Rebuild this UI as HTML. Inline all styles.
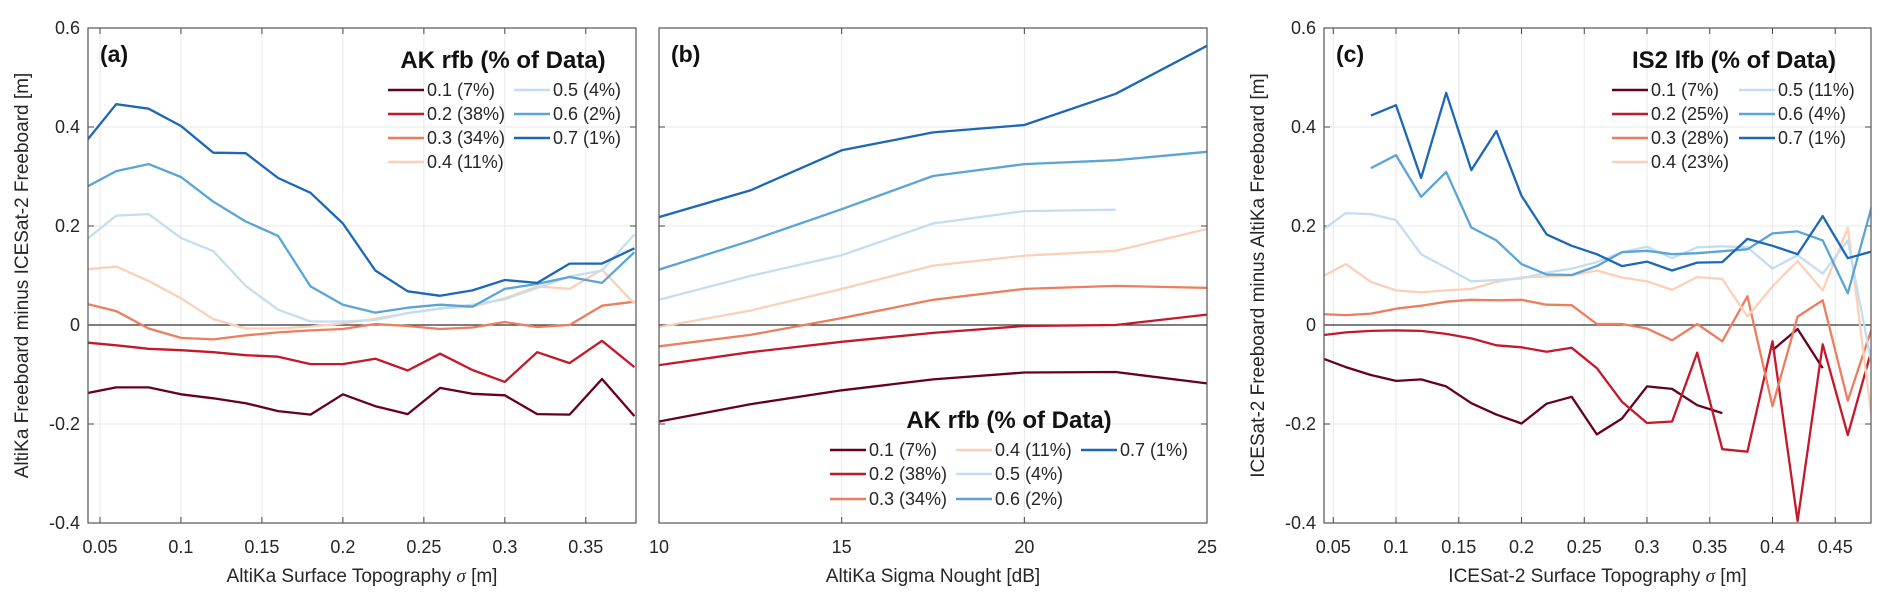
<!DOCTYPE html>
<html><head><meta charset="utf-8">
<style>
html,body{margin:0;padding:0;background:#fff;}
svg{display:block;font-family:"Liberation Sans",Arial,sans-serif;}
</style></head>
<body>
<svg id="chart" width="1892" height="604" viewBox="0 0 1892 604" xmlns="http://www.w3.org/2000/svg"></svg>
<script>
// ---------- data ----------
const seriesLabels = ['0.1','0.2','0.3','0.4','0.5','0.6','0.7'];
const seriesColors = ['#67001f','#c4182b','#ec7d5e','#fcd0b6','#c3def1','#5aa5d6','#1d67b8'];

const xA = [0.04,0.06,0.08,0.10,0.12,0.14,0.16,0.18,0.20,0.22,0.24,0.26,0.28,0.30,0.32,0.34,0.36,0.38];
const a01 = [-0.139,-0.126,-0.126,-0.140,-0.148,-0.158,-0.174,-0.181,-0.140,-0.164,-0.180,-0.127,-0.139,-0.142,-0.180,-0.181,-0.109,-0.184];
const a02 = [-0.035,-0.041,-0.048,-0.051,-0.055,-0.061,-0.064,-0.079,-0.079,-0.068,-0.092,-0.058,-0.091,-0.115,-0.055,-0.077,-0.032,-0.085];
const a03 = [0.044,0.028,-0.007,-0.026,-0.029,-0.021,-0.015,-0.011,-0.008,0.002,-0.002,-0.008,-0.005,0.006,-0.004,0.000,0.039,0.047];
const a04 = [0.112,0.118,0.089,0.054,0.012,-0.007,-0.007,-0.003,0.003,0.013,0.024,0.034,0.037,0.054,0.078,0.073,0.112,0.043];
const a05 = [0.168,0.221,0.224,0.176,0.149,0.079,0.031,0.007,0.007,0.010,0.024,0.033,0.041,0.052,0.075,0.098,0.110,0.183];
const a06 = [0.276,0.311,0.325,0.299,0.249,0.209,0.180,0.078,0.041,0.025,0.035,0.041,0.037,0.073,0.083,0.097,0.085,0.147];
const a07 = [0.365,0.446,0.437,0.402,0.348,0.347,0.297,0.267,0.205,0.110,0.068,0.059,0.070,0.091,0.085,0.124,0.124,0.155];

const xB = [10,12.5,15,17.5,20,22.5,25];
const b01 = [-0.195,-0.160,-0.132,-0.110,-0.096,-0.095,-0.118];
const b02 = [-0.081,-0.055,-0.034,-0.016,-0.002,0.000,0.021];
const b03 = [-0.043,-0.020,0.014,0.051,0.073,0.079,0.075];
const b04 = [-0.004,0.029,0.073,0.120,0.140,0.150,0.194];
const b05 = [0.051,0.099,0.141,0.205,0.230,0.233,null];
const b06 = [0.112,0.170,0.234,0.301,0.325,0.333,0.350];
const b07 = [0.218,0.272,0.353,0.389,0.404,0.467,0.564];

const xC = [0.04,0.06,0.08,0.10,0.12,0.14,0.16,0.18,0.20,0.22,0.24,0.26,0.28,0.30,0.32,0.34,0.36,0.38,0.40,0.42,0.44,0.46,0.48];
const c01 = [-0.066,-0.085,-0.101,-0.113,-0.110,-0.124,-0.158,-0.181,-0.199,-0.159,-0.145,-0.221,-0.189,-0.124,-0.129,-0.162,-0.178,null,-0.051,-0.008,-0.087,null,null];
const c02 = [-0.021,-0.015,-0.012,-0.011,-0.012,-0.018,-0.027,-0.041,-0.045,-0.054,-0.046,-0.087,-0.155,-0.198,-0.195,-0.056,-0.251,-0.256,-0.033,-0.396,-0.039,-0.222,-0.041];
const c03 = [0.022,0.020,0.023,0.033,0.039,0.047,0.051,0.050,0.051,0.041,0.040,0.002,0.002,-0.007,-0.031,0.002,-0.033,0.058,-0.164,0.017,0.050,-0.153,0.000];
const c04 = [0.096,0.123,0.087,0.070,0.066,0.070,0.073,0.087,0.096,0.098,0.100,0.110,0.096,0.088,0.071,0.097,0.093,0.017,0.078,0.129,0.070,0.196,-0.207];
const c05 = [0.189,0.226,0.224,0.212,0.143,0.116,0.088,0.091,0.094,0.106,0.114,0.127,0.147,0.158,0.135,0.157,0.159,0.157,0.114,0.141,0.104,0.171,-0.092];
const c06 = [null,null,0.317,0.343,0.259,0.309,0.197,0.171,0.123,0.102,0.101,0.119,0.147,0.150,0.143,0.145,0.149,0.153,0.185,0.189,0.171,0.064,0.248];
const c07 = [null,null,0.423,0.444,0.297,0.469,0.313,0.392,0.261,0.183,0.160,0.143,0.119,0.128,0.110,0.126,0.127,0.174,0.160,0.143,0.220,0.135,0.149];

const yTicks = [-0.4,-0.2,0,0.2,0.4,0.6];
const yTickLabels = ['-0.4','-0.2','0','0.2','0.4','0.6'];
const xTicksA = [0.05,0.1,0.15,0.2,0.25,0.3,0.35];
const xTickLabelsA = ['0.05','0.1','0.15','0.2','0.25','0.3','0.35'];
const xTicksB = [10,15,20,25];
const xTickLabelsB = ['10','15','20','25'];
const xTicksC = [0.05,0.1,0.15,0.2,0.25,0.3,0.35,0.4,0.45];
const xTickLabelsC = ['0.05','0.1','0.15','0.2','0.25','0.3','0.35','0.4','0.45'];
const legendPctA = ['7%','38%','34%','11%','4%','2%','1%'];
const legendPctC = ['7%','25%','28%','23%','11%','4%','1%'];

// ---------- drawing ----------
const NS='http://www.w3.org/2000/svg';
const svg=document.getElementById('chart');
function mk(tag,attrs,parent){const e=document.createElementNS(NS,tag);for(const k in attrs)e.setAttribute(k,attrs[k]);(parent||svg).appendChild(e);return e;}
const TOP=28,BOT=523;
function panel(id,L,R,xmin,xmax,xs,ys,xt,xtl,showY,letter,xlabel,ylabel){
  const g=mk('g',{});
  
  
  const X=v=>L+(v-xmin)/(xmax-xmin)*(R-L);
  const Y=v=>BOT-(v-(-0.4))/(1.0)*(BOT-TOP);
  const clipId='clip-'+id;
  const cp=mk('clipPath',{id:clipId},g);mk('rect',{x:L,y:TOP,width:R-L,height:BOT-TOP},cp);
  xt.forEach((v,i)=>{
    const gl=mk('line',{x1:X(v),x2:X(v),y1:TOP,y2:BOT,stroke:'#e8e8e8','stroke-width':1},g);
    
    
    mk('line',{x1:X(v),x2:X(v),y1:BOT,y2:BOT-6,stroke:'#444','stroke-width':1},g);
    mk('line',{x1:X(v),x2:X(v),y1:TOP,y2:TOP+6,stroke:'#444','stroke-width':1},g);
    const t=mk('text',{x:X(v),y:553,'font-size':18,'text-anchor':'middle',fill:'#262626'},g);
    t.textContent=xtl[i];
    
    
  });
  yTicks.forEach((v,i)=>{
    if(v>-0.4&&v<0.6){const gl=mk('line',{x1:L,x2:R,y1:Y(v),y2:Y(v),stroke:'#e8e8e8','stroke-width':1},g);
      
      }
    mk('line',{x1:L,x2:L+6,y1:Y(v),y2:Y(v),stroke:'#444','stroke-width':1},g);
    mk('line',{x1:R,x2:R-6,y1:Y(v),y2:Y(v),stroke:'#444','stroke-width':1},g);
    if(showY){const t=mk('text',{x:L-8,y:Y(v)+6,'font-size':18,'text-anchor':'end',fill:'#262626'},g);
      t.textContent=yTickLabels[i];
      
      }
  });
  const z=mk('line',{x1:L,x2:R,y1:Y(0),y2:Y(0),stroke:'#333','stroke-width':1.3},g);
  
  
  const lg=mk('g',{'clip-path':'url(#'+clipId+')'},g);
  ys.forEach((arr,si)=>{
    let d='',pen=false;
    arr.forEach((v,i)=>{
      if(v===null||v===undefined){pen=false;return;}
      d+=(pen?'L':'M')+X(xs[i]).toFixed(1)+' '+Y(v).toFixed(1)+' ';pen=true;
    });
    const p=mk('path',{d:d,fill:'none',stroke:seriesColors[si],'stroke-width':2.3,'stroke-linejoin':'round'},lg);
    
    
  });
  const box=mk('rect',{x:L,y:TOP,width:R-L,height:BOT-TOP,fill:'none',stroke:'#555','stroke-width':1.2},g);
  
  
  const pl=mk('text',{x:L+12,y:62,'font-size':23,'font-weight':'bold',fill:'#111'},g);
  pl.textContent=letter;
  
  
  const xl=mk('text',{x:(L+R)/2,y:582,'font-size':19,'text-anchor':'middle',fill:'#262626'},g);
  xl.innerHTML=xlabel;
  
  
  if(ylabel){const yx=L-60;
    const yl=mk('text',{x:yx,y:(TOP+BOT)/2,'font-size':19,'text-anchor':'middle',fill:'#262626',transform:'rotate(-90 '+yx+' '+(TOP+BOT)/2+')'},g);
    yl.textContent=ylabel;
    
    }
  return g;
}
function legend(title,tx,ty,entries){
  const g=mk('g',{});
  
  
  const t=mk('text',{x:tx,y:ty,'font-size':24,'font-weight':'bold','text-anchor':'middle',fill:'#111'},g);
  t.textContent=title;
  
  
  entries.forEach(e=>{
    const eg=mk('g',{},g);
    
    
    mk('line',{x1:e.x,x2:e.x+36,y1:e.y,y2:e.y,stroke:seriesColors[e.i],'stroke-width':2.6},eg);
    const tt=mk('text',{x:e.x+39,y:e.y+6,'font-size':18,fill:'#262626'},eg);
    tt.textContent=e.label;
  });
}
panel('a',88,636,0.0426,0.381,xA,[a01,a02,a03,a04,a05,a06,a07],xTicksA,xTickLabelsA,true,'(a)','AltiKa Surface Topography <tspan font-style="italic" font-family="Liberation Serif">σ</tspan> [m]','AltiKa Freeboard minus ICESat-2 Freeboard [m]');
panel('b',659,1207,10,25,xB,[b01,b02,b03,b04,b05,b06,b07],xTicksB,xTickLabelsB,false,'(b)','AltiKa Sigma Nought [dB]',null);
panel('c',1324,1871,0.0426,0.4785,xC,[c01,c02,c03,c04,c05,c06,c07],xTicksC,xTickLabelsC,true,'(c)','ICESat-2 Surface Topography <tspan font-style="italic" font-family="Liberation Serif">σ</tspan> [m]','ICESat-2 Freeboard minus AltiKa Freeboard [m]');

const rowsA=[90,114,138,162];
legend('AK rfb (% of Data)',503,68,[0,1,2,3,4,5,6].map(i=>({i:i,x:i<4?388:514,y:i<4?rowsA[i]:rowsA[i-4],label:seriesLabels[i]+' ('+legendPctA[i]+')'})));
const rowsB=[450,474,499];
legend('AK rfb (% of Data)',1009,428,[0,1,2,3,4,5,6].map(i=>({i:i,x:i<3?830:(i<6?956:1081),y:i<3?rowsB[i]:(i<6?rowsB[i-3]:rowsB[0]),label:seriesLabels[i]+' ('+legendPctA[i]+')'})));
legend('IS2 lfb (% of Data)',1734,68,[0,1,2,3,4,5,6].map(i=>({i:i,x:i<4?1612:1739,y:i<4?rowsA[i]:rowsA[i-4],label:seriesLabels[i]+' ('+legendPctC[i]+')'})));
</script>
</body></html>
